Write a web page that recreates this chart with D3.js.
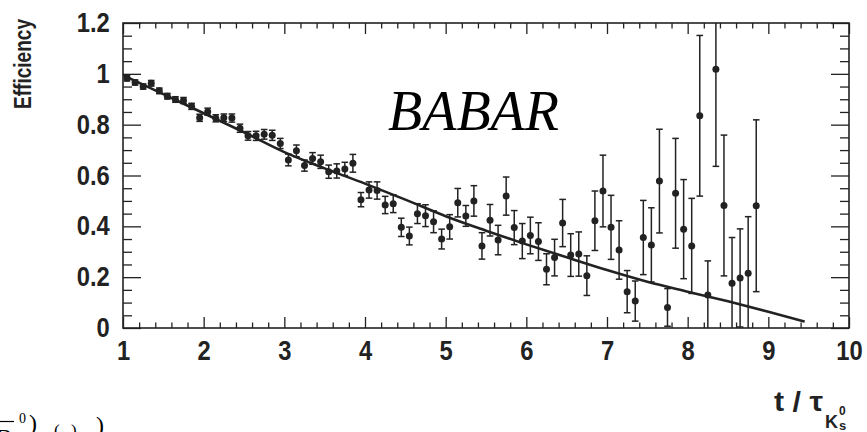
<!DOCTYPE html>
<html>
<head>
<meta charset="utf-8">
<script src="https://cdn.jsdelivr.net/npm/d3@7"></script>
<style>
  html, body { margin: 0; padding: 0; background: #fff; }
  svg { display: block; }
</style>
</head>
<body>
<svg id="chart" width="867" height="432"></svg>
<script>
// Decay-time bins (in units of the K0S lifetime)
const binTime = [
  1.05, 1.15, 1.25, 1.35, 1.45, 1.55, 1.65, 1.75, 1.85, 1.95,
  2.05, 2.15, 2.25, 2.35, 2.45, 2.55, 2.65, 2.75, 2.85, 2.95,
  3.05, 3.15, 3.25, 3.35, 3.45, 3.55, 3.65, 3.75, 3.85, 3.95,
  4.05, 4.15, 4.25, 4.35, 4.45, 4.55, 4.65, 4.75, 4.85, 4.95,
  5.05, 5.15, 5.25, 5.35, 5.45, 5.55, 5.65, 5.75, 5.85, 5.95,
  6.05, 6.15, 6.25, 6.35, 6.45, 6.55, 6.65, 6.75, 6.85, 6.95,
  7.05, 7.15, 7.25, 7.35, 7.45, 7.55, 7.65, 7.75, 7.85, 7.95,
  8.05, 8.15, 8.25, 8.35, 8.45, 8.55, 8.65, 8.75, 8.85
];

// Measured reconstruction efficiency per bin
const efficiency = [
  0.983, 0.966, 0.950, 0.963, 0.933, 0.912, 0.899, 0.895, 0.872, 0.827,
  0.851, 0.825, 0.827, 0.826, 0.786, 0.756, 0.756, 0.762, 0.758, 0.726,
  0.661, 0.697, 0.639, 0.667, 0.654, 0.615, 0.618, 0.626, 0.648, 0.505,
  0.543, 0.541, 0.484, 0.489, 0.396, 0.362, 0.450, 0.442, 0.418, 0.350,
  0.398, 0.493, 0.441, 0.500, 0.323, 0.424, 0.346, 0.519, 0.395, 0.342,
  0.364, 0.340, 0.231, 0.277, 0.413, 0.287, 0.291, 0.206, 0.422, 0.539,
  0.396, 0.307, 0.143, 0.106, 0.356, 0.327, 0.578, 0.081, 0.530, 0.389,
  0.323, 0.835, 0.130, 1.018, 0.482, 0.176, 0.197, 0.215, 0.481
];

// Statistical uncertainty per bin
const efficiencyErr = [
  0.011, 0.010, 0.010, 0.011, 0.011, 0.011, 0.011, 0.012, 0.012, 0.014,
  0.014, 0.014, 0.015, 0.016, 0.016, 0.017, 0.018, 0.019, 0.020, 0.020,
  0.023, 0.023, 0.022, 0.023, 0.026, 0.026, 0.028, 0.026, 0.035, 0.028,
  0.032, 0.034, 0.034, 0.035, 0.036, 0.035, 0.039, 0.043, 0.043, 0.039,
  0.048, 0.056, 0.041, 0.060, 0.052, 0.062, 0.058, 0.075, 0.067, 0.069,
  0.072, 0.074, 0.061, 0.072, 0.093, 0.084, 0.087, 0.078, 0.117, 0.141,
  0.126, 0.115, 0.083, 0.079, 0.146, 0.146, 0.204, 0.074, 0.216, 0.195,
  0.187, 0.316, 0.134, 0.382, 0.277, 0.180, 0.193, 0.223, 0.338
];

// Parametrised fit curve, sampled along t
const fitTime = [1.0, 1.5, 2.0, 2.5, 3.0, 3.5, 4.0, 4.5, 5.0, 5.5, 6.0, 6.5, 7.0, 7.5, 8.0, 8.5, 9.0, 9.45];
const fitEfficiency = [0.995, 0.920, 0.845, 0.770, 0.692, 0.628, 0.568, 0.505, 0.440, 0.383, 0.329, 0.278, 0.228, 0.182, 0.143, 0.105, 0.064, 0.025];

// Axis ticks
const xTickValues = [1, 2, 3, 4, 5, 6, 7, 8, 9, 10];
const xTickLabels = ["1", "2", "3", "4", "5", "6", "7", "8", "9", "10"];
const yTickValues = [0, 0.2, 0.4, 0.6, 0.8, 1.0, 1.2];
const yTickLabels = ["0", "0.2", "0.4", "0.6", "0.8", "1", "1.2"];

const plot = { left: 123, right: 849, top: 23, bottom: 328 };
const ink = "#222";
const sans = "'Liberation Sans', Arial, Helvetica, sans-serif";
const serif = "'Liberation Serif', 'Times New Roman', serif";
const narrow = 0.88;   // horizontal squeeze for the condensed sans lettering

const svg = d3.select("#chart");

const x = d3.scaleLinear().domain([1, 10]).range([plot.left, plot.right]);
const y = d3.scaleLinear().domain([0, 1.2]).range([plot.bottom, plot.top]);

svg.append("defs").append("clipPath").attr("id", "plot-clip")
  .append("rect")
  .attr("x", plot.left).attr("y", plot.top)
  .attr("width", plot.right - plot.left).attr("height", plot.bottom - plot.top);

// Minor tick positions
const xMinor = d3.range(1, 10.001, 0.2).filter(v => Math.abs(v - Math.round(v)) > 1e-6);
const yMinor = d3.range(0, 1.2001, 0.05).filter(v => Math.abs(v / 0.2 - Math.round(v / 0.2)) > 1e-6);

function styleAxis(g) {
  g.select(".domain").remove();
  g.selectAll(".tick line").attr("stroke", ink).attr("stroke-width", 1.3);
}
function styleLabels(g) {
  g.selectAll("text")
    .attr("fill", ink).attr("font-family", sans)
    .attr("font-weight", "bold").attr("font-size", 27)
    .attr("transform", `scale(${narrow},1)`);
}

// Bottom axis: labelled major ticks pointing inward
svg.append("g")
  .attr("transform", `translate(0,${plot.bottom})`)
  .call(d3.axisBottom(x).tickValues(xTickValues)
    .tickFormat((d, i) => xTickLabels[i])
    .tickSizeInner(-11).tickSizeOuter(0).tickPadding(13))
  .call(styleAxis)
  .call(styleLabels);

svg.append("g")
  .attr("transform", `translate(0,${plot.bottom})`)
  .call(d3.axisBottom(x).tickValues(xMinor).tickFormat("")
    .tickSizeInner(-5.5).tickSizeOuter(0))
  .call(styleAxis);

// Top axis: unlabelled mirror ticks
svg.append("g")
  .attr("transform", `translate(0,${plot.top})`)
  .call(d3.axisTop(x).tickValues(xTickValues).tickFormat("")
    .tickSizeInner(-11).tickSizeOuter(0))
  .call(styleAxis);
svg.append("g")
  .attr("transform", `translate(0,${plot.top})`)
  .call(d3.axisTop(x).tickValues(xMinor).tickFormat("")
    .tickSizeInner(-5.5).tickSizeOuter(0))
  .call(styleAxis);

// Left axis: labelled
svg.append("g")
  .attr("transform", `translate(${plot.left},0)`)
  .call(d3.axisLeft(y).tickValues(yTickValues)
    .tickFormat((d, i) => yTickLabels[i])
    .tickSizeInner(-18).tickSizeOuter(0).tickPadding(15))
  .call(styleAxis)
  .call(styleLabels);
svg.append("g")
  .attr("transform", `translate(${plot.left},0)`)
  .call(d3.axisLeft(y).tickValues(yMinor).tickFormat("")
    .tickSizeInner(-9).tickSizeOuter(0))
  .call(styleAxis);

// Right axis: mirror ticks
svg.append("g")
  .attr("transform", `translate(${plot.right},0)`)
  .call(d3.axisRight(y).tickValues(yTickValues).tickFormat("")
    .tickSizeInner(-18).tickSizeOuter(0))
  .call(styleAxis);
svg.append("g")
  .attr("transform", `translate(${plot.right},0)`)
  .call(d3.axisRight(y).tickValues(yMinor).tickFormat("")
    .tickSizeInner(-9).tickSizeOuter(0))
  .call(styleAxis);

// Frame
svg.append("rect")
  .attr("x", plot.left).attr("y", plot.top)
  .attr("width", plot.right - plot.left).attr("height", plot.bottom - plot.top)
  .attr("fill", "none").attr("stroke", ink).attr("stroke-width", 1.6);

const data = binTime.map((t, i) => ({ t, v: efficiency[i], e: efficiencyErr[i] }));
const clipped = svg.append("g").attr("clip-path", "url(#plot-clip)");

// Fit curve
const fitPts = fitTime.map((t, i) => [t, fitEfficiency[i]]);
clipped.append("path")
  .datum(fitPts)
  .attr("fill", "none")
  .attr("stroke", ink)
  .attr("stroke-width", 2.6)
  .attr("d", d3.line().x(d => x(d[0])).y(d => y(d[1])).curve(d3.curveMonotoneX));

// Error bars with caps
const capHalf = 3.3;
const bars = clipped.append("g").attr("stroke", ink).attr("stroke-width", 1.5);
bars.selectAll("line.stem").data(data).join("line")
  .attr("class", "stem")
  .attr("x1", d => x(d.t)).attr("x2", d => x(d.t))
  .attr("y1", d => y(d.v - d.e)).attr("y2", d => y(d.v + d.e));
bars.selectAll("line.capHi").data(data).join("line")
  .attr("class", "capHi")
  .attr("x1", d => x(d.t) - capHalf).attr("x2", d => x(d.t) + capHalf)
  .attr("y1", d => y(d.v + d.e)).attr("y2", d => y(d.v + d.e));
bars.selectAll("line.capLo").data(data).join("line")
  .attr("class", "capLo")
  .attr("x1", d => x(d.t) - capHalf).attr("x2", d => x(d.t) + capHalf)
  .attr("y1", d => y(d.v - d.e)).attr("y2", d => y(d.v - d.e));

// Data markers
clipped.append("g").selectAll("circle").data(data).join("circle")
  .attr("cx", d => x(d.t)).attr("cy", d => y(d.v))
  .attr("r", 3.5).attr("fill", ink);

// Experiment label
svg.append("text")
  .attr("x", 388).attr("y", 130)
  .attr("font-family", serif).attr("font-style", "italic")
  .attr("font-size", 56).attr("fill", "#000")
  .text("BABAR");

// Y-axis title
svg.append("text")
  .attr("transform", "translate(31,64) rotate(-90)")
  .attr("text-anchor", "middle")
  .attr("font-family", sans).attr("font-weight", "bold")
  .attr("font-size", 23).attr("fill", ink)
  .attr("textLength", 90).attr("lengthAdjust", "spacingAndGlyphs")
  .text("Efficiency");

// X-axis title: t / tau_{K0S}
const xt = svg.append("g").attr("fill", ink).attr("font-family", sans).attr("font-weight", "bold");
xt.append("text").attr("x", 774).attr("y", 411)
  .attr("font-size", 28).attr("textLength", 49).attr("lengthAdjust", "spacingAndGlyphs")
  .text("t / τ");
xt.append("text").attr("x", 825).attr("y", 428).attr("font-size", 18)
  .attr("textLength", 13).attr("lengthAdjust", "spacingAndGlyphs").text("K");
xt.append("text").attr("x", 839).attr("y", 415).attr("font-size", 12).text("0");
xt.append("text").attr("x", 839).attr("y", 430).attr("font-size", 13).text("s");

// Caption fragment running off the lower edge
const cap = svg.append("g").attr("fill", "#000").attr("font-family", serif);
cap.append("line").attr("x1", 0).attr("x2", 14).attr("y1", 421.5).attr("y2", 421.5)
  .attr("stroke", "#000").attr("stroke-width", 1.2);
cap.append("text").attr("x", -4).attr("y", 445).attr("font-size", 24).text("B");
cap.append("text").attr("x", 19).attr("y", 423).attr("font-size", 14).text("0");
cap.append("text").attr("x", 29).attr("y", 431).attr("font-size", 24).text(")");
cap.append("text").attr("x", 54).attr("y", 436).attr("font-size", 17).text("(");
cap.append("text").attr("x", 71).attr("y", 436).attr("font-size", 17).text(")");
cap.append("text").attr("x", 96).attr("y", 433).attr("font-size", 24).text(")");
</script>
</body>
</html>
